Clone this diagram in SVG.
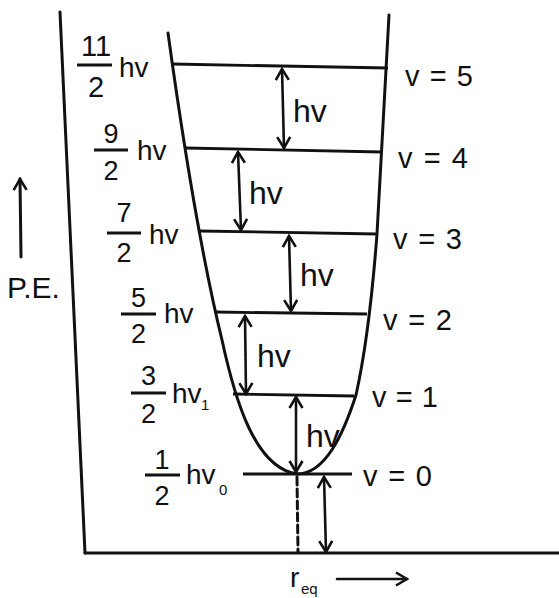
<svg xmlns="http://www.w3.org/2000/svg" width="559" height="598" viewBox="0 0 559 598">
<style>
.ln{stroke:#111;stroke-width:3;fill:none;stroke-linecap:round}
.lv{stroke:#111;stroke-width:2.8;fill:none}
.ar{stroke:#111;stroke-width:2.6;fill:none;marker-start:url(#ah);marker-end:url(#ah)}
.t{font-family:"Liberation Sans",Arial,sans-serif;fill:#111}
.num{font-size:27px;text-anchor:middle}
.hv{font-size:28px}
.ahv{font-size:32px}
.vl{font-size:29px}
.bar{stroke:#111;stroke-width:2.8}
</style>
<defs>
<marker id="ah" viewBox="0 0 16 16" refX="14" refY="8" markerWidth="16" markerHeight="16" markerUnits="userSpaceOnUse" orient="auto-start-reverse">
<path d="M3,1.5 L14,8 L3,14.5" fill="none" stroke="#111" stroke-width="2.6"/>
</marker>
</defs>
<rect width="559" height="598" fill="#fff"/>
<g id="axes">
<line class="ln" x1="60" y1="12" x2="85" y2="553"/>
<line class="ln" x1="85" y1="553" x2="559" y2="553"/>
<line class="ln" x1="297" y1="477" x2="298" y2="552" stroke-dasharray="8,4" stroke-linecap="butt"/>
</g>
<g id="curve">
<path class="ln" d="M168,33 C180,120 200,250 222,340 C235,400 255,468 297,474 C325,474 343,435 356,395 C366,350 372,300 377,234 L389,15"/>
</g>
<g id="levels">
<line class="lv" x1="172" y1="64" x2="388" y2="68"/>
<line class="lv" x1="185" y1="148" x2="382" y2="152"/>
<line class="lv" x1="199" y1="231" x2="377" y2="234"/>
<line class="lv" x1="215" y1="312" x2="367" y2="314"/>
<line class="lv" x1="233" y1="394" x2="354" y2="396"/>
<line class="lv" x1="243" y1="474" x2="352" y2="474"/>
</g>
<g id="energy-labels">
<g id="e5">
<text class="t num" x="96" y="56" style="font-size:29px">11</text>
<line class="bar" x1="77" y1="65" x2="112" y2="65"/>
<text class="t num" x="96" y="97" style="font-size:29px">2</text>
<text class="t hv" x="119" y="77">hv</text>
</g>
<g id="e4">
<text class="t num" x="111" y="143">9</text>
<line class="bar" x1="94" y1="150" x2="128" y2="150"/>
<text class="t num" x="111" y="180">2</text>
<text class="t hv" x="137" y="160">hv</text>
</g>
<g id="e3">
<text class="t num" x="124" y="222">7</text>
<line class="bar" x1="107" y1="233" x2="141" y2="233"/>
<text class="t num" x="124" y="262">2</text>
<text class="t hv" x="149" y="244">hv</text>
</g>
<g id="e2">
<text class="t num" x="138.5" y="307">5</text>
<line class="bar" x1="121" y1="314" x2="156" y2="314"/>
<text class="t num" x="138.5" y="343">2</text>
<text class="t hv" x="164" y="323">hv</text>
</g>
<g id="e1">
<text class="t num" x="148.5" y="385">3</text>
<line class="bar" x1="131" y1="393" x2="166" y2="393"/>
<text class="t num" x="148.5" y="423">2</text>
<text class="t hv" x="172" y="403">hv</text>
<text class="t" x="201" y="410" style="font-size:15px">1</text>
</g>
<g id="e0">
<text class="t num" x="162" y="469">1</text>
<line class="bar" x1="145" y1="475" x2="180" y2="475"/>
<text class="t num" x="162" y="505">2</text>
<text class="t hv" x="186" y="484">hv</text>
<text class="t" x="219" y="495" style="font-size:15px">0</text>
</g>
</g>
<g id="v-labels">
<text class="t vl" x="405" y="86" textLength="68" lengthAdjust="spacing">v = 5</text>
<text class="t vl" x="398" y="168" textLength="70" lengthAdjust="spacing">v = 4</text>
<text class="t vl" x="393" y="249" textLength="69" lengthAdjust="spacing">v = 3</text>
<text class="t vl" x="383" y="330" textLength="69" lengthAdjust="spacing">v = 2</text>
<text class="t vl" x="372" y="407" textLength="66" lengthAdjust="spacing">v = 1</text>
<text class="t vl" x="363" y="486" textLength="69" lengthAdjust="spacing">v = 0</text>
</g>
<g id="connectors">
<line class="ar" x1="282" y1="69" x2="284" y2="148"/>
<line class="ar" x1="238" y1="152" x2="241" y2="230"/>
<line class="ar" x1="289" y1="236" x2="291" y2="311"/>
<line class="ar" x1="245" y1="316" x2="246" y2="394"/>
<line class="ar" x1="296" y1="397" x2="296" y2="472"/>
<line class="ar" x1="324" y1="477" x2="326" y2="552"/>
<line class="ln" x1="21" y1="257" x2="20" y2="179" style="marker-end:url(#ah)"/>
<line class="ln" x1="337" y1="579" x2="407" y2="579" style="marker-end:url(#ah);stroke-width:2.6"/>
</g>
<g id="hv-labels">
<text class="t ahv" x="293" y="122">hv</text>
<text class="t ahv" x="249" y="204">hv</text>
<text class="t ahv" x="300" y="286">hv</text>
<text class="t ahv" x="257" y="367">hv</text>
<text class="t ahv" x="306" y="447">hv</text>
</g>
<g id="axis-labels">
<text class="t" x="7" y="298" style="font-size:30px">P.E.</text>
<text class="t" x="290" y="587" style="font-size:28px">r</text>
<text class="t" x="301" y="594" style="font-size:15px">eq</text>
</g>
</svg>
